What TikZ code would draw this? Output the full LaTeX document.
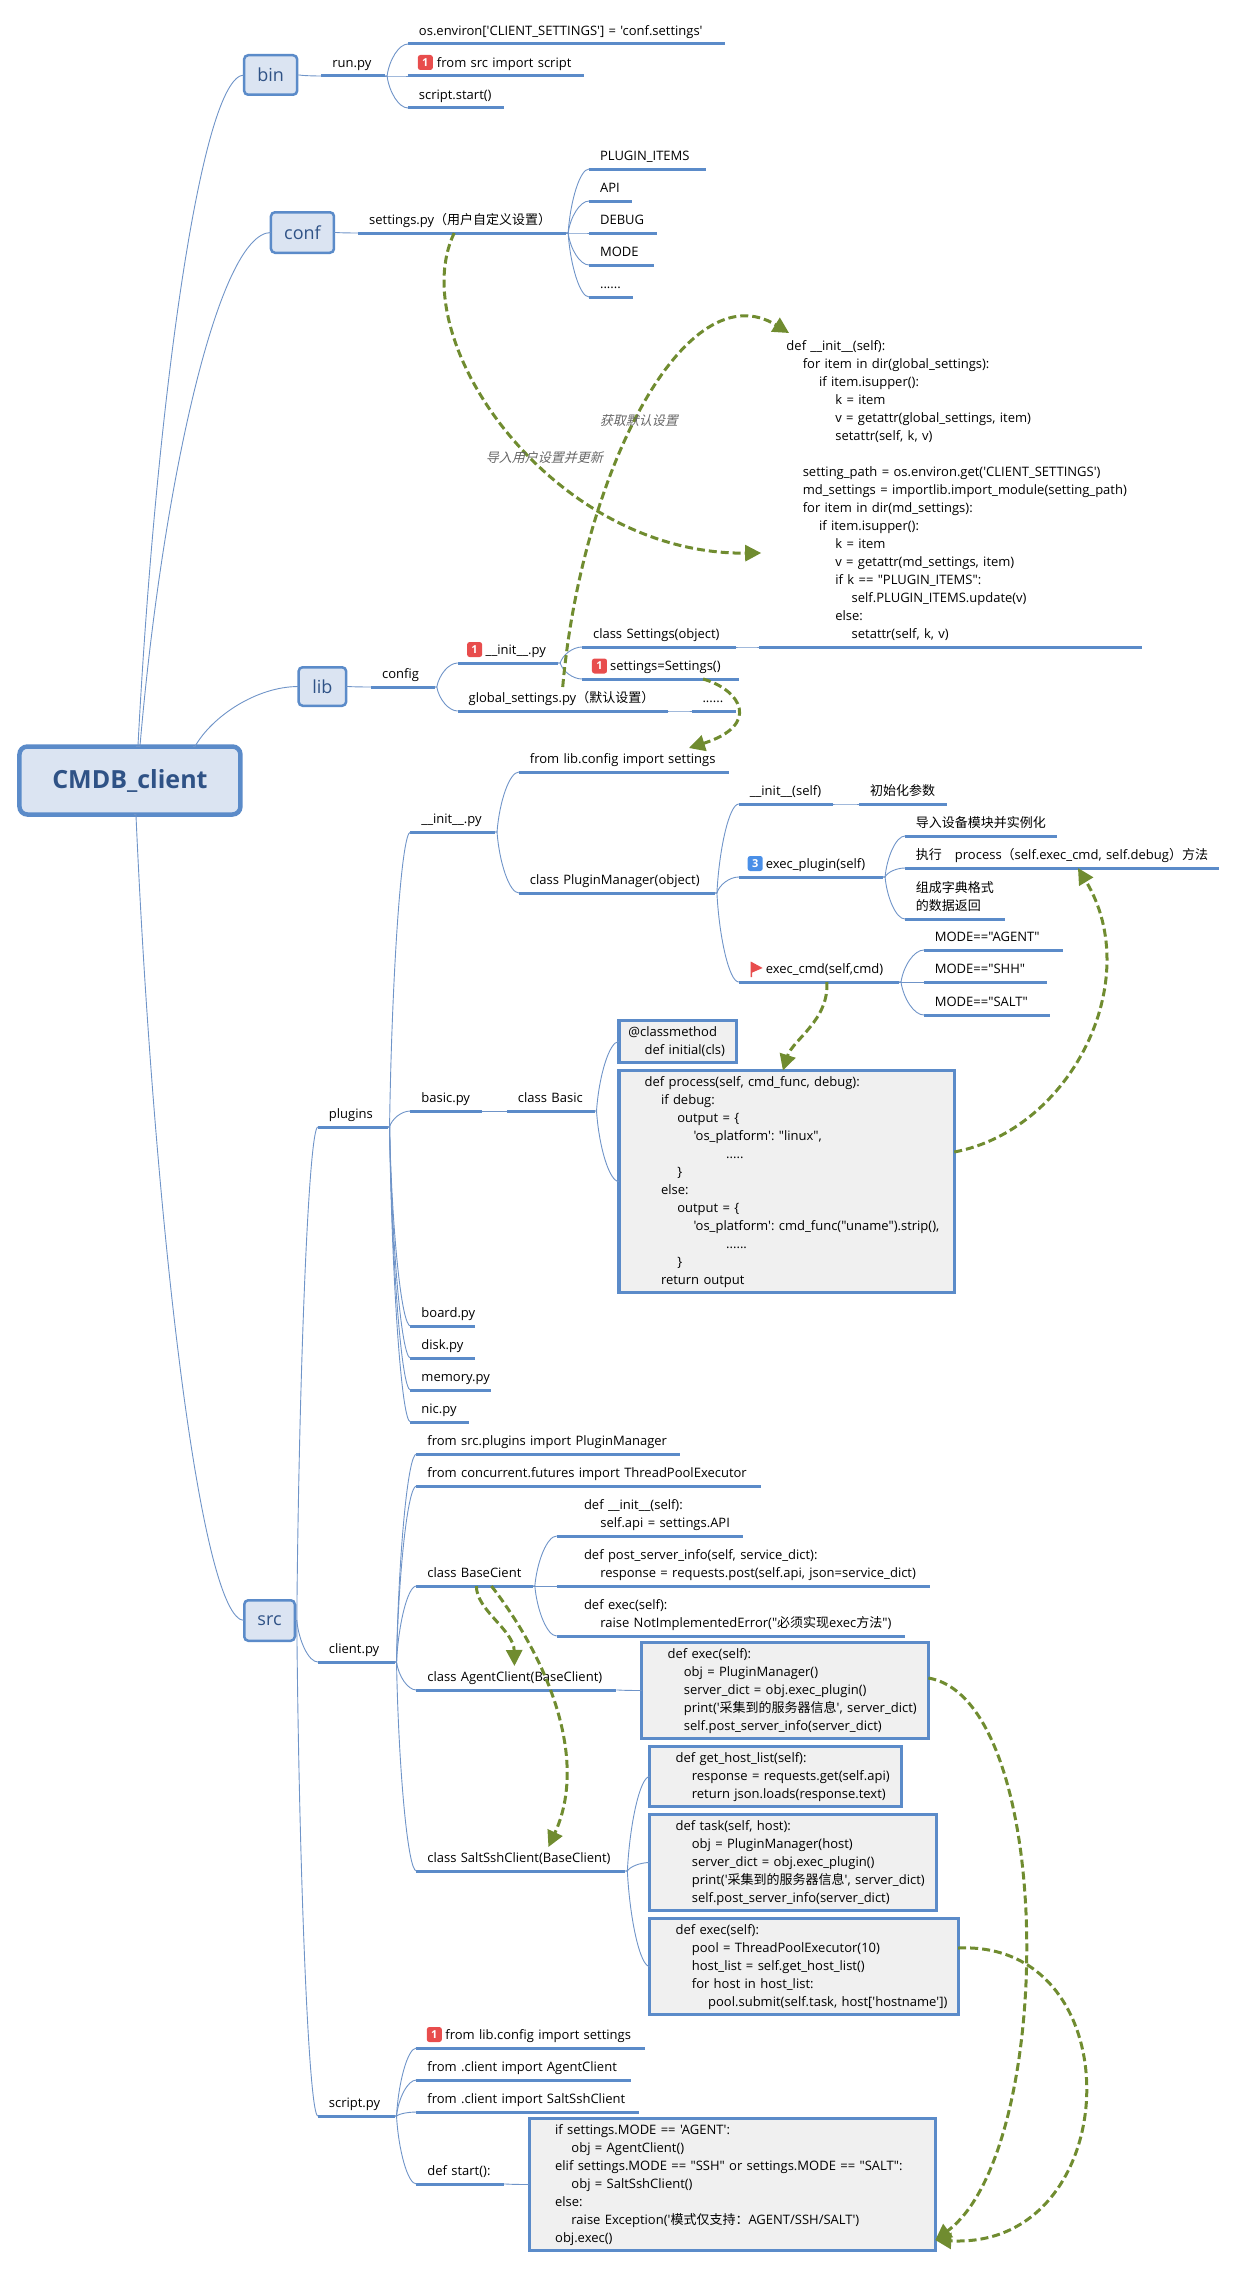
\documentclass[tikz,border=0pt]{standalone}
\usepackage{fontspec}
\usetikzlibrary{calc}
\usetikzlibrary{arrows.meta}
\frenchspacing
\newfontfamily\codefam{Open Sans}
\newfontfamily\cjkfam{Noto Sans CJK SC}
\newfontfamily\cjkslant[FakeSlant=0.25]{Noto Sans CJK SC}
\newcommand\zh[1]{{\cjkfam #1}}
\newdimen\tabw \tabw=16.3pt
\newcommand\tb[1]{\hspace*{#1\tabw}}
\definecolor{linecol}{HTML}{5B8BC9}
\definecolor{thincol}{HTML}{6F94C8}
\definecolor{boxfill}{HTML}{DBE4F2}
\definecolor{codefill}{HTML}{F0F0F0}
\definecolor{titlecol}{HTML}{2F5286}
\definecolor{linkcol}{HTML}{708C30}
\definecolor{badgered}{HTML}{E84D4D}
\definecolor{badgeblue}{HTML}{4A8FE7}
\tikzset{
  underl/.style={draw=linecol,line width=3pt},
  topic/.style={anchor=south west,inner xsep=11pt,inner ysep=3pt,outer sep=0pt,align=left,
    text width={0.995*#1pt-22pt},font=\codefam\fontsize{13}{18}\selectfont,
    execute at end node=\strut,
    append after command={(\tikzlastnode.south west) edge[underl] (\tikzlastnode.south east)}},
  codebox/.style={anchor=north west,draw=linecol,line width=3.3pt,fill=codefill,inner xsep=9.5pt,
    inner ysep=0pt,outer sep=0pt,align=left,text width={0.995*#1pt-19pt},
    font=\codefam\fontsize{13}{18}\selectfont,
    execute at begin node=\strut,execute at end node=\strut},
  subject/.style={draw=linecol,line width=2.5pt,fill=boxfill,rounded corners=4pt,text=titlecol,
    outer sep=0pt,inner sep=0pt,font=\codefam\fontsize{18}{20}\selectfont},
  badge/.style={fill=#1,rounded corners=2.5pt,text=white,inner sep=0pt,outer sep=0pt,
    minimum size=15pt,font=\codefam\bfseries\fontsize{11}{11}\selectfont},
  note/.style={text=black!60,inner sep=0pt,font=\cjkslant\fontsize{13}{15}\selectfont},
  branch/.style={draw=thincol,line width=0.9pt,to path={let \p1=(\tikztostart),\p2=(\tikztotarget) in
    -- ({\x1+2pt},\y1) .. controls ({\x1+0.18*(\x2-\x1)},{\y1+0.5*(\y2-\y1)}) and ({\x1+0.6*(\x2-\x1)},\y2) .. (\tikztotarget)}},
  link/.style={draw=linkcol,line width=3pt,dash pattern=on 8pt off 4pt,
    -{Triangle[length=16pt,width=16pt]}},
}
\begin{document}
\begin{tikzpicture}[x=0.995pt,y=-1pt]
\useasboundingbox (0,0) rectangle (1243.2,2296);

% 中心主题
\node[subject,line width=4.5pt,rounded corners=8pt,minimum width=221pt,minimum height=68pt,
  font=\codefam\bfseries\fontsize{25}{28}\selectfont] (root) at (130.6,780.5) {CMDB\_client};
\node[subject,minimum width=53pt,minimum height=39.5pt] (bin) at (272,75) {bin};
\node[subject,minimum width=63pt,minimum height=40.5pt] (conf) at (304,232.5) {conf};
\node[subject,minimum width=47.5pt,minimum height=38.5pt] (lib) at (324,686.5) {lib};
\node[subject,minimum width=50.5pt,minimum height=40.5pt] (src) at (270.9,1620.5) {src};

% bin
\node[topic=64] (runPy) at (323,76) {run.py};
\node[topic=319] (runEnv) at (410,44) {os.environ['CLIENT\_SETTINGS'] = 'conf.settings'};
\node[topic=177] (runImport) at (410,76) {\hspace*{18pt}from src import script};
\node[badge=badgered] (runBadge) at (427.5,62.5) {1};
\node[topic=97] (runStart) at (410,108) {script.start()};

% conf
\node[topic=209] (settingsCfg) at (360,233) {settings.py\zh{（用户自定义设置）}};
\node[topic=118] (cfgItems) at (592,169) {PLUGIN\_ITEMS};
\node[topic=43] (cfgApi) at (592,201) {API};
\node[topic=68] (cfgDebug) at (592,233) {DEBUG};
\node[topic=65] (cfgMode) at (592,265) {MODE};
\node[topic=44] (cfgMore) at (592,297) {......};

% lib
\node[topic=64] (config) at (373,687) {config};
\node[topic=101] (initLib) at (460,663) {\hspace*{17pt}\_\_init\_\_.py};
\node[badge=badgered] (initBadge) at (477,649.5) {1};
\node[topic=211] (globalCfg) at (460,711) {global\_settings.py\zh{（默认设置）}};
\node[topic=45] (globalMore) at (695,711) {......};
\node[topic=155] (settingsCls) at (585,647) {class Settings(object)};
\node[topic=158] (settingsObj) at (585,679) {\hspace*{17pt}settings=Settings()};
\node[badge=badgered] (objBadge) at (602.5,666) {1};
\node[topic=385] (settingsCode) at (763,647) {\tb1def \_\_init\_\_(self):\\
  \tb2for item in dir(global\_settings):\\
  \tb3if item.isupper():\\
  \tb4k = item\\
  \tb4v = getattr(global\_settings, item)\\
  \tb4setattr(self, k, v)\\[18pt]
  \tb2setting\_path = os.environ.get('CLIENT\_SETTINGS')\\
  \tb2md\_settings = importlib.import\_module(setting\_path)\\
  \tb2for item in dir(md\_settings):\\
  \tb3if item.isupper():\\
  \tb4k = item\\
  \tb4v = getattr(md\_settings, item)\\
  \tb4if k == "PLUGIN\_ITEMS":\\
  \tb5self.PLUGIN\_ITEMS.update(v)\\
  \tb4else:\\
  \tb5setattr(self, k, v)};

\begin{scope}[xshift=1.5pt]
% src / plugins
\node[topic=70] (plugins) at (318,1127) {plugins};
\node[topic=85] (initPlug) at (411,832) {\_\_init\_\_.py};
\node[topic=211] (importCfg) at (520,772) {from lib.config import settings};
\node[topic=197] (pluginMgr) at (520,893) {class PluginManager(object)};
\node[topic=95] (mgrInit) at (741,804) {\_\_init\_\_(self)};
\node[topic=88] (mgrInitNote) at (862,804) {\zh{初始化参数}};
\node[topic=145] (execPlugin) at (741,877) {\hspace*{16pt}exec\_plugin(self)};
\node[badge=badgeblue] (execBadge) at (757.5,863.5) {3};
\node[topic=153] (execLoad) at (908,836) {\zh{导入设备模块并实例化}};
\node[topic=316] (execRun) at (908,868) {\zh{执行}\quad process\zh{（}self.exec\_cmd, self.debug\zh{）方法}};
\node[topic=101] (execDict) at (908,919) {\zh{组成字典格式}\\\zh{的数据返回}};
\node[topic=161] (execCmd) at (741,982) {\hspace*{16pt}exec\_cmd(self,cmd)};
\fill[badgered] (753,961.5) -- (765,968) -- (754.5,972.5) -- (754.5,977) -- (753,977) -- cycle;
\node[topic=140] (modeAgent) at (927,950) {MODE=="AGENT"};
\node[topic=124] (modeShh) at (927,982) {MODE=="SHH"};
\node[topic=127] (modeSalt) at (927,1015) {MODE=="SALT"};
\node[topic=72] (basicPy) at (411,1111) {basic.py};
\node[topic=88] (basicCls) at (508,1111) {class Basic};
\node[codebox=118,minimum height=42pt] (initialBox) at (620.5,1020.5) {@classmethod\\\tb1def initial(cls)};
\node[codebox=337,minimum height=222pt] (processBox) at (620.5,1070.5) {\tb1def process(self, cmd\_func, debug):\\
  \tb2if debug:\\
  \tb3output = \{\\
  \tb4'os\_platform': "linux",\\
  \tb6.....\\
  \tb3\}\\
  \tb2else:\\
  \tb3output = \{\\
  \tb4'os\_platform': cmd\_func("uname").strip(),\\
  \tb6......\\
  \tb3\}\\
  \tb2return output};
\node[topic=65] (boardPy) at (411,1326) {board.py};
\node[topic=65] (diskPy) at (411,1358) {disk.py};
\node[topic=81] (memoryPy) at (411,1390) {memory.py};
\node[topic=59] (nicPy) at (411,1422) {nic.py};

% src / client.py
\node[topic=77] (clientPy) at (318,1662) {client.py};
\node[topic=265] (fromPlug) at (417,1454) {from src.plugins import PluginManager};
\node[topic=346] (fromPool) at (417,1486) {from concurrent.futures import ThreadPoolExecutor};
\node[topic=117] (baseCls) at (417,1586) {class BaseCient};
\node[topic=187] (baseInit) at (558,1536) {\tb1def \_\_init\_\_(self):\\\tb2self.api = settings.API};
\node[topic=375] (basePost) at (558,1586) {\tb1def post\_server\_info(self, service\_dict):\\\tb2response = requests.post(self.api, json=service\_dict)};
\node[topic=350] (baseExec) at (558,1636) {\tb1def exec(self):\\\tb2raise NotImplementedError("\zh{必须实现}exec\zh{方法}")};
\node[topic=201] (agentCls) at (417,1690) {class AgentClient(BaseClient)};
\node[codebox=288,minimum height=96pt] (agentBox) at (643.5,1642.5) {\tb1def exec(self):\\
  \tb2obj = PluginManager()\\
  \tb2server\_dict = obj.exec\_plugin()\\
  \tb2print('\zh{采集到的服务器信息}', server\_dict)\\
  \tb2self.post\_server\_info(server\_dict)};
\node[topic=210] (saltCls) at (417,1871) {class SaltSshClient(BaseClient)};
\node[codebox=253,minimum height=60pt] (hostBox) at (651.5,1746.5) {\tb1def get\_host\_list(self):\\
  \tb2response = requests.get(self.api)\\
  \tb2return json.loads(response.text)};
\node[codebox=288,minimum height=96pt] (taskBox) at (651.5,1814.5) {\tb1def task(self, host):\\
  \tb2obj = PluginManager(host)\\
  \tb2server\_dict = obj.exec\_plugin()\\
  \tb2print('\zh{采集到的服务器信息}', server\_dict)\\
  \tb2self.post\_server\_info(server\_dict)};
\node[codebox=310,minimum height=96pt] (execBox) at (651.5,1918.5) {\tb1def exec(self):\\
  \tb2pool = ThreadPoolExecutor(10)\\
  \tb2host\_list = self.get\_host\_list()\\
  \tb2for host in host\_list:\\
  \tb3pool.submit(self.task, host['hostname'])};

% src / script.py
\node[topic=77] (scriptPy) at (318,2116) {script.py};
\node[topic=230] (fromCfg) at (417,2048) {\hspace*{18pt}from lib.config import settings};
\node[badge=badgered] (fromBadge) at (435,2034.5) {1};
\node[topic=216] (fromAgent) at (417,2080) {from .client import AgentClient};
\node[topic=224] (fromSalt) at (417,2112) {from .client import SaltSshClient};
\node[topic=88] (startDef) at (417,2184) {def start():};
\node[codebox=408,minimum height=132pt] (startBox) at (530.5,2118.5) {\tb1if settings.MODE == 'AGENT':\\
  \tb2obj = AgentClient()\\
  \tb1elif settings.MODE == "SSH" or settings.MODE == "SALT":\\
  \tb2obj = SaltSshClient()\\
  \tb1else:\\
  \tb2raise Exception('\zh{模式仅支持：}AGENT/SSH/SALT')\\
  \tb1obj.exec()};
\end{scope}

% 分支
\draw[branch] ([xshift=6]root.north) to (bin.west);
\draw[branch] ([xshift=8]root.north) to (conf.west);
\draw[branch] ([xshift=63]root.north) to (lib.west);
\draw[branch] ([xshift=4]root.south) to (src.west);
\draw[branch] (bin.east) to (runPy.south west);
\foreach \kid in {runEnv,runImport,runStart} \draw[branch] (runPy.south east) to (\kid.south west);
\draw[branch] (conf.east) to (settingsCfg.south west);
\foreach \kid in {cfgItems,cfgApi,cfgDebug,cfgMode,cfgMore} \draw[branch] (settingsCfg.south east) to (\kid.south west);
\draw[branch] (lib.east) to (config.south west);
\foreach \kid in {initLib,globalCfg} \draw[branch] (config.south east) to (\kid.south west);
\draw[branch] (globalCfg.south east) to (globalMore.south west);
\foreach \kid in {settingsCls,settingsObj} \draw[branch] (initLib.south east) to (\kid.south west);
\draw[branch] (settingsCls.south east) to (settingsCode.south west);
\foreach \kid in {plugins,clientPy,scriptPy} \draw[branch] (src.east) to (\kid.south west);
\foreach \kid in {initPlug,basicPy,boardPy,diskPy,memoryPy,nicPy} \draw[branch] (plugins.south east) to (\kid.south west);
\foreach \kid in {importCfg,pluginMgr} \draw[branch] (initPlug.south east) to (\kid.south west);
\foreach \kid in {mgrInit,execPlugin,execCmd} \draw[branch] (pluginMgr.south east) to (\kid.south west);
\draw[branch] (mgrInit.south east) to (mgrInitNote.south west);
\foreach \kid in {execLoad,execRun,execDict} \draw[branch] (execPlugin.south east) to (\kid.south west);
\foreach \kid in {modeAgent,modeShh,modeSalt} \draw[branch] (execCmd.south east) to (\kid.south west);
\draw[branch] (basicPy.south east) to (basicCls.south west);
\foreach \kid in {initialBox,processBox} \draw[branch] (basicCls.south east) to (\kid.west);
\foreach \kid in {fromPlug,fromPool,baseCls,agentCls,saltCls} \draw[branch] (clientPy.south east) to (\kid.south west);
\foreach \kid in {baseInit,basePost,baseExec} \draw[branch] (baseCls.south east) to (\kid.south west);
\draw[branch] (agentCls.south east) to (agentBox.west);
\foreach \kid in {hostBox,taskBox,execBox} \draw[branch] (saltCls.south east) to (\kid.west);
\foreach \kid in {fromCfg,fromAgent,fromSalt,startDef} \draw[branch] (scriptPy.south east) to (\kid.south west);
\draw[branch] (startDef.south east) to (startBox.west);

% 关联线
\coordinate (updateIn) at (765,553);
\coordinate (defaultIn) at (793,333);
\draw[link] ([xshift=96]settingsCfg.south west) .. controls (405,340) and (555,555) .. (updateIn);
\draw[link] ([xshift=105]globalCfg.north west) .. controls (585,470) and (690,270) .. (defaultIn);
\draw[link] ([xshift=121]settingsObj.south west) .. controls (745,690) and (765,725) .. ([xshift=170]importCfg.north west);
\begin{scope}[xshift=1.5pt]
\draw[link] ([xshift=88]execCmd.south west) .. controls (832,1020) and (795,1040) .. ([xshift=164]processBox.north west);
\draw[link] ([yshift=29.5]processBox.east) .. controls (1075,1130) and (1150,980) .. ([xshift=173]execRun.south west);
\draw[link] ([xshift=60]baseCls.south west) .. controls (477,1610) and (515,1630) .. ([xshift=98]agentCls.north west);
\draw[link] ([xshift=75]baseCls.south west) .. controls (550,1660) and (590,1760) .. ([xshift=132]saltCls.north west);
\draw[link] ([yshift=12.5]agentBox.east) .. controls (1060,1700) and (1060,2150) .. ([yshift=-55.5]startBox.east);
\draw[link] ([yshift=18.5]execBox.east) .. controls (1140,1940) and (1130,2250) .. ([yshift=-55.5]startBox.east);
\end{scope}

\node[note] (defaultNote) at (642,421) {获取默认设置};
\node[note] (updateNote) at (547,458) {导入用户设置并更新};
\end{tikzpicture}
\end{document}
